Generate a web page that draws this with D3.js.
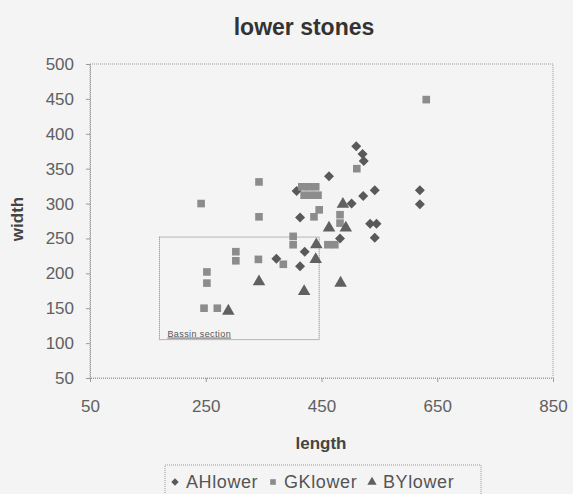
<!DOCTYPE html>
<html>
<head>
<meta charset="utf-8">
<script src="https://cdn.jsdelivr.net/npm/d3@7"></script>
<style>
  body { margin: 0; background: #f4f4f4; }
  text { font-family: Arial, "Liberation Sans", sans-serif; }
</style>
</head>
<body>
<script>
// lower stones scatter

var ahLength = [510, 521, 523, 463, 542, 522, 620, 620, 413, 502, 534, 545, 542, 482, 421, 413, 372, 407];
var ahWidth  = [382, 371, 361, 339, 319, 311, 319, 299, 280, 300, 271, 271, 251, 250, 231, 210, 221, 318];

var gkLength = [631, 342, 242, 342, 416, 428, 440, 420, 432, 444, 446, 437, 482, 482, 401, 401, 461, 473, 302, 302, 341, 252, 252, 247, 270, 511, 384];
var gkWidth  = [449, 331, 300, 281, 324, 324, 324, 312, 312, 312, 291, 281, 284, 272, 253, 241, 241, 241, 231, 218, 220, 202, 186, 150, 150, 350, 213];

var byLength = [289, 342, 420, 483, 440, 441, 463, 492, 487];
var byWidth  = [146, 188, 174, 186, 220, 241, 265, 265, 299];

var xTicks = [50, 250, 450, 650, 850];
var yTicks = [50, 100, 150, 200, 250, 300, 350, 400, 450, 500];

// the dotted box drawn on the chart
var basinBox = {x0: 170, x1: 446, y0: 105, y1: 252, label: "Bassin section"};

var W = 573, H = 494;
var margin = {left: 90, right: 20, top: 64, bottom: 116};

var svg = d3.select("body").append("svg")
    .attr("width", W)
    .attr("height", H);

var x = d3.scaleLinear().domain([50, 850]).range([margin.left, W - margin.right]);
var y = d3.scaleLinear().domain([50, 500]).range([H - margin.bottom, margin.top]);

// diamond = square turned 45deg, like excel's marker
var series = [
    {name: "AHlower", xs: ahLength, ys: ahWidth, type: d3.symbolSquare, rot: 45, size: 50, fill: "#595959"},
    {name: "GKlower", xs: gkLength, ys: gkWidth, type: d3.symbolSquare, rot: 0, size: 58, fill: "#8c8c8c"},
    {name: "BYlower", xs: byLength, ys: byWidth, type: d3.symbolTriangle, rot: 0, size: 68, fill: "#606060"}
];

function translateStr(a, b) {
    return "translate(" + a + "," + b + ")";
}

// title
svg.append("text")
    .attr("x", 304)
    .attr("y", 35)
    .attr("text-anchor", "middle")
    .attr("font-size", 23)
    .attr("font-weight", "bold")
    .attr("fill", "#333")
    .text("lower stones");

// plot frame
svg.append("rect")
    .attr("x", x(50))
    .attr("y", y(500))
    .attr("width", x(850) - x(50))
    .attr("height", y(50) - y(500))
    .attr("fill", "none")
    .attr("stroke", "#9a9a9a")
    .attr("stroke-dasharray", "1,1");

var xAxis = svg.append("g")
    .attr("transform", translateStr(0, y(50)))
    .call(d3.axisBottom(x).tickValues(xTicks).tickSize(4).tickPadding(18));

var yAxis = svg.append("g")
    .attr("transform", translateStr(x(50), 0))
    .call(d3.axisLeft(y).tickValues(yTicks).tickSize(4).tickPadding(12));

[xAxis, yAxis].forEach(function(ax) {
    ax.select(".domain").attr("stroke", "#9a9a9a").attr("stroke-dasharray", "1,1");
    ax.selectAll(".tick line").attr("stroke", "#9a9a9a");
    ax.selectAll(".tick text")
      .attr("font-size", 17)
      .attr("fill", "#606060")
      .style("font-family", "Arial, 'Liberation Sans', sans-serif");
});

// axis titles
svg.append("text")
    .attr("x", 321)
    .attr("y", 449)
    .attr("text-anchor", "middle")
    .attr("font-size", 17)
    .attr("font-weight", "bold")
    .attr("fill", "#444")
    .text("length");

svg.append("text")
    .attr("transform", "translate(23,219) rotate(-90)")
    .attr("text-anchor", "middle")
    .attr("font-size", 17)
    .attr("font-weight", "bold")
    .attr("fill", "#444")
    .text("width");

// basin box annotation
svg.append("rect")
    .attr("x", x(basinBox.x0))
    .attr("y", y(basinBox.y1))
    .attr("width", x(basinBox.x1) - x(basinBox.x0))
    .attr("height", y(basinBox.y0) - y(basinBox.y1))
    .attr("fill", "none")
    .attr("stroke", "#777")
    .attr("stroke-dasharray", "1,1");

svg.append("text")
    .attr("x", x(basinBox.x0) + 8)
    .attr("y", y(basinBox.y0) - 3)
    .attr("font-size", 9)
    .attr("letter-spacing", 0.4)
    .attr("fill", "#555")
    .attr("text-decoration", "underline")
    .text(basinBox.label);

// points
series.forEach(function(s) {
    var sym = d3.symbol().type(s.type).size(s.size);
    svg.append("g").selectAll("path")
        .data(d3.range(s.xs.length))
        .enter()
        .append("path")
        .attr("d", sym)
        .attr("transform", function(i) {
            return translateStr(x(s.xs[i]), y(s.ys[i])) + " rotate(" + s.rot + ")";
        })
        .attr("fill", s.fill);
});

// legend
var legend = svg.append("g");
legend.append("rect")
    .attr("x", 165)
    .attr("y", 465)
    .attr("width", 316)
    .attr("height", 34)
    .attr("fill", "none")
    .attr("stroke", "#9a9a9a")
    .attr("stroke-dasharray", "1,1");

var legendX = [175, 273, 372];
series.forEach(function(s, i) {
    legend.append("path")
        .attr("d", d3.symbol().type(s.type).size(s.size * 0.55))
        .attr("transform", translateStr(legendX[i], 482) + " rotate(" + s.rot + ")")
        .attr("fill", s.fill);
    legend.append("text")
        .attr("x", legendX[i] + 11)
        .attr("y", 488)
        .attr("font-size", 18)
        .attr("letter-spacing", 0.6)
        .attr("fill", "#555")
        .text(s.name);
});
</script>
</body>
</html>
